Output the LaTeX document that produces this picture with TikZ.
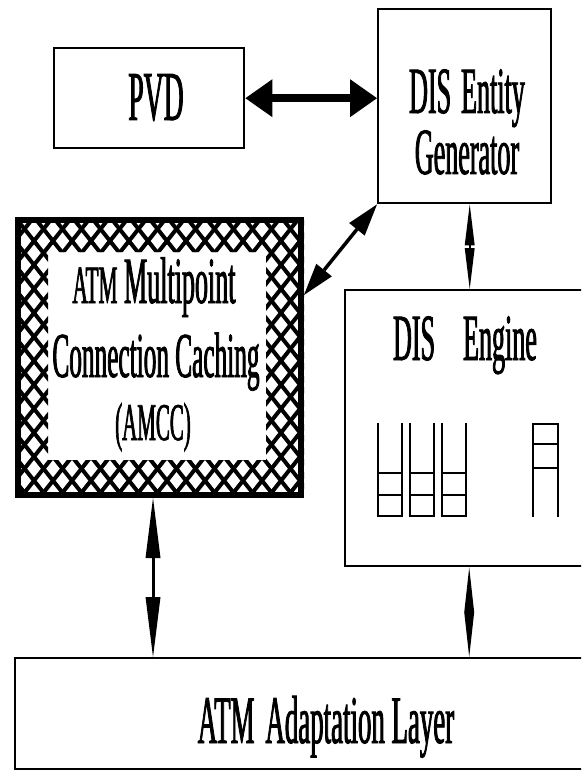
\documentclass[tikz,border=0pt]{standalone}
\usepackage{fontspec}
\setmainfont{Liberation Serif}[FakeStretch=0.395,FakeBold=1.2]
\usepackage{tikz}
\usetikzlibrary{arrows.meta,positioning}

\begin{document}
\begin{tikzpicture}[
    x=1pt,y=-1pt,
    box/.style={draw,line width=2.4pt,anchor=north west,inner sep=0pt},
    lbl/.style={anchor=base,inner sep=0pt,font=\fontsize{68}{74}\selectfont},
    mesh/.style={line width=4pt},
    stack/.style={line width=2.2pt},
    fat/.style={{Triangle[length=27pt,width=38pt,line width=0pt]}-{Triangle[length=27pt,width=38pt,line width=0pt]},line width=8pt},
    mid/.style={{Triangle[length=32pt,width=20pt,line width=0pt]}-{Triangle[length=32pt,width=20pt,line width=0pt]},line width=3.5pt},
    slim/.style={{Triangle[length=#1,width=10pt,line width=0pt]}-{Triangle[length=#1,width=10pt,line width=0pt]},line width=1.6pt},
    long/.style={{Triangle[length=60pt,width=15pt,line width=0pt]}-{Triangle[length=60pt,width=15pt,line width=0pt]},line width=3pt}
]
\path[use as bounding box,clip] (0,0) rectangle (581,770);

% boxes
\node[box,minimum width=190,minimum height=100] (pvd) at (53,47) {};
\node[box,minimum width=173,minimum height=194] (gen) at (377,8) {};
\node[box,minimum width=256,minimum height=276] (eng) at (344,289) {};
\node[box,minimum width=586,minimum height=111] (all) at (14,657) {};
\node[box,line width=6pt,minimum width=283,minimum height=275] (amcc) at (15,217) {};

% cross hatched frame of the AMCC box
\begin{scope}[even odd rule]
  \clip (amcc.north west) rectangle (amcc.south east) (48,252) rectangle (266,460);
  \foreach \k in {-12,...,28}
    \draw[mesh] (\k*19+15,217) -- ++(218,275) (\k*19+15,217) -- ++(-218,275);
\end{scope}

% labels
\node[lbl,font=\fontsize{70}{74}\selectfont] (pvdtxt) at (156,120) {PVD};
\node[lbl,align=center,font=\fontsize{66}{61}\selectfont] (gentxt) at (467,174) {DIS\hspace{10pt}Entity\\Generator};
\node[lbl,font=\fontsize{66}{70}\selectfont] (amcctxta) at (154,303) {{\fontsize{54}{58}\selectfont ATM} Multipoint};
\node[lbl,font=\fontsize{64}{70}\selectfont] (amcctxtb) at (156,377) {Connection Caching};
\node[lbl,font=\fontsize{53}{56}\selectfont] (amcctxtc) at (153,440) {(AMCC)};
\node[lbl,font=\fontsize{66}{70}\selectfont] (engtxt) at (465,360) {DIS\hspace{28pt}Engine};
\node[lbl] (alltxt) at (326,743) {ATM\hspace{11pt}Adaptation Layer};

% queues inside the engine
\foreach \x in {378,410,442} {
  \draw[stack] (\x,423) -- (\x,516) -- (\x+24,516) -- (\x+24,423);
  \draw[stack] (\x,473) -- ++(24,0) (\x,495) -- ++(24,0);
}
\draw[stack] (533,517) -- (533,424) -- (558,424) -- (558,517);
\draw[stack] (533,444) -- ++(25,0) (533,468) -- ++(25,0);

% connections
\coordinate (gs) at ([xshift=5pt]gen.south);
\coordinate (es) at ([xshift=-4pt]eng.south);
\coordinate (as) at ([xshift=-6.5pt]amcc.south);
\coordinate (ae) at ([yshift=-78pt]amcc.north east);
\draw[fat] (pvd.east) -- (pvd.east -| gen.west);
\draw[mid] (gen.south west) -- (ae);
\draw[slim=41pt] (gs) -- (gs |- eng.north);
\draw[slim=45pt] (es) -- (es |- all.north);
\draw[long] (as) -- (as |- all.north);
\end{tikzpicture}
\end{document}
